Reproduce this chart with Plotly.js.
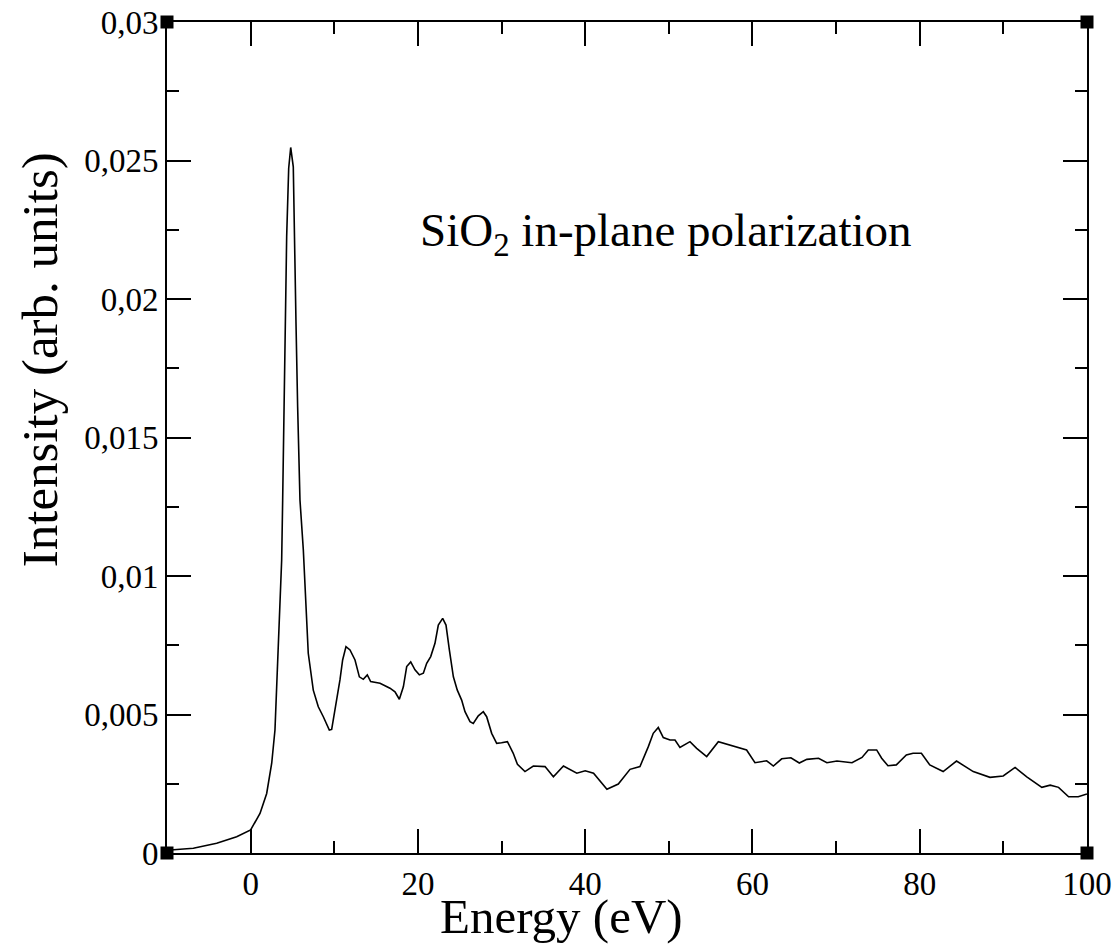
<!DOCTYPE html>
<html>
<head>
<meta charset="utf-8">
<script src="https://cdn.plot.ly/plotly-3.0.1.min.js"></script>
<style>
html,body{margin:0;padding:0;background:#fff;}
#chart{width:1118px;height:946px;}
</style>
</head>
<body>
<div id="chart"></div>
<script>
// Energy (eV)
const energy = [-10, -6.85, -4.06, -1.67, 0, 1.12, 1.92, 2.52, 2.91, 3.11, 3.31, 3.51, 3.71, 3.83, 3.95, 4.02, 4.14, 4.31, 4.55, 4.79,
  5.1, 5.27, 5.42, 5.62, 5.7, 5.9, 6.3, 6.58, 6.89, 7.49, 8.09, 8.69, 9.41, 9.69, 10.29, 10.68, 11.0, 11.4, 11.88, 12.48,
  13.0, 13.47, 13.95, 14.35, 15.47, 16.66, 17.26, 17.78, 18.26, 18.66, 19.14, 19.65, 20.17, 20.65, 21.05, 21.53, 22.04, 22.44, 22.96, 23.36,
  23.76, 24.24, 24.71, 25.23, 25.63, 26.23, 26.62, 27.22, 27.82, 28.22, 28.82, 29.42, 30.0, 30.7, 31.4, 31.9, 32.8, 33.8, 35.2, 36.2,
  37.4, 39.0, 40.0, 41.0, 42.6, 43.96, 45.36, 46.55, 47.55, 48.14, 48.74, 49.34, 50.14, 50.74, 51.33, 52.53, 53.33, 54.53, 55.92, 56.92,
  58.1, 59.3, 60.3, 61.7, 62.5, 63.5, 64.6, 65.6, 66.5, 67.9, 68.9, 70.1, 71.9, 73.1, 73.85, 74.85, 75.45, 76.2, 77.2, 78.4,
  79.2, 80.2, 81.2, 82.8, 84.4, 86.4, 88.4, 89.98, 91.4, 92.8, 94.6, 95.6, 96.6, 97.8, 98.95, 100];

// Intensity (arb. units)
const intensity = [0.0001, 0.00017, 0.00035, 0.00059, 0.00083, 0.00143, 0.00215, 0.00324, 0.00444, 0.0060, 0.00757, 0.00937, 0.01058, 0.01274, 0.01527, 0.0169, 0.01874, 0.02227, 0.02472, 0.02547,
  0.02477, 0.02243, 0.01918, 0.01611, 0.01527, 0.01274, 0.01094, 0.00913, 0.00721, 0.00588, 0.00528, 0.00492, 0.00444, 0.00446, 0.00552, 0.00625, 0.00697, 0.00745, 0.00733, 0.00697,
  0.00636, 0.00627, 0.00643, 0.00619, 0.00613, 0.00595, 0.00582, 0.00555, 0.0060, 0.00673, 0.0069, 0.00661, 0.00643, 0.00649, 0.00685, 0.00709, 0.00757, 0.00823, 0.00847, 0.00823,
  0.00733, 0.00636, 0.00588, 0.00552, 0.0051, 0.00474, 0.00468, 0.00495, 0.0051, 0.00492, 0.00432, 0.00396, 0.00398, 0.00402, 0.0036, 0.0032, 0.00294, 0.00314, 0.00312, 0.00275,
  0.00314, 0.00288, 0.00297, 0.00288, 0.0023, 0.00249, 0.00302, 0.00312, 0.00384, 0.00432, 0.00453, 0.00417, 0.00408, 0.00408, 0.00381, 0.00402, 0.00378, 0.00348, 0.00402, 0.00393,
  0.00381, 0.00372, 0.00326, 0.00333, 0.00314, 0.0034, 0.00344, 0.00325, 0.00338, 0.00342, 0.00326, 0.00332, 0.00326, 0.00345, 0.00372, 0.00372, 0.00342, 0.00315, 0.00318, 0.00354,
  0.0036, 0.0036, 0.00318, 0.00294, 0.00332, 0.00294, 0.00273, 0.00278, 0.00309, 0.00275, 0.00237, 0.00245, 0.00237, 0.00203, 0.00203, 0.00213];

// Corner markers of the frame
const cornerX = [-10, 100, -10, 100];
const cornerY = [0, 0, 0.03, 0.03];

const xTitle = 'Energy (eV)';
const yTitle = 'Intensity (arb. units)';
const label = 'SiO<sub>2</sub> in-plane polarization';

const serif = 'Liberation Serif, Times New Roman, serif';

const traces = [
  {
    x: energy, y: intensity, type: 'scatter', mode: 'lines',
    line: {color: '#000', width: 1.6},
    hoverinfo: 'skip', showlegend: false
  },
  {
    x: cornerX, y: cornerY, type: 'scatter', mode: 'markers',
    marker: {symbol: 'square', size: 13, color: '#000'},
    cliponaxis: false, hoverinfo: 'skip', showlegend: false
  }
];

const axisCommon = {
  showgrid: false, zeroline: false,
  showline: true, linecolor: '#000', linewidth: 2,
  mirror: 'allticks', ticks: 'inside', ticklen: 24, tickwidth: 2, tickcolor: '#000',
  tickfont: {family: serif, size: 33, color: '#000'}
};

const layout = {
  width: 1118, height: 946,
  margin: {l: 167, r: 31, t: 22, b: 93, pad: 0},
  paper_bgcolor: '#fff', plot_bgcolor: '#fff',
  separators: ', ',
  font: {family: serif, color: '#000'},
  xaxis: Object.assign({}, axisCommon, {
    range: [-10, 100], tick0: 0, dtick: 20,
    minor: {dtick: 10, tick0: 0, ticks: 'inside', ticklen: 12, tickwidth: 2, tickcolor: '#000'}
  }),
  yaxis: Object.assign({}, axisCommon, {
    range: [0, 0.03], tick0: 0, dtick: 0.005,
    minor: {dtick: 0.0025, tick0: 0, ticks: 'inside', ticklen: 12, tickwidth: 2, tickcolor: '#000'}
  }),
  annotations: [
    {text: yTitle, xref: 'paper', yref: 'paper', x: -0.138, y: 0.593, textangle: -90,
     showarrow: false, xanchor: 'center', yanchor: 'middle', font: {family: serif, size: 51, color: '#000'}},
    {text: xTitle, xref: 'paper', yref: 'paper', x: 0.429, y: -0.111,
     showarrow: false, xanchor: 'center', yanchor: 'bottom', borderpad: 0,
     font: {family: serif, size: 49, color: '#000'}},
    {text: label, xref: 'paper', yref: 'paper', x: 0.542, y: 0.745,
     showarrow: false, xanchor: 'center', yanchor: 'middle', font: {family: serif, size: 47, color: '#000'}}
  ]
};

Plotly.newPlot('chart', traces, layout, {staticPlot: true, displayModeBar: false});
</script>
</body>
</html>
